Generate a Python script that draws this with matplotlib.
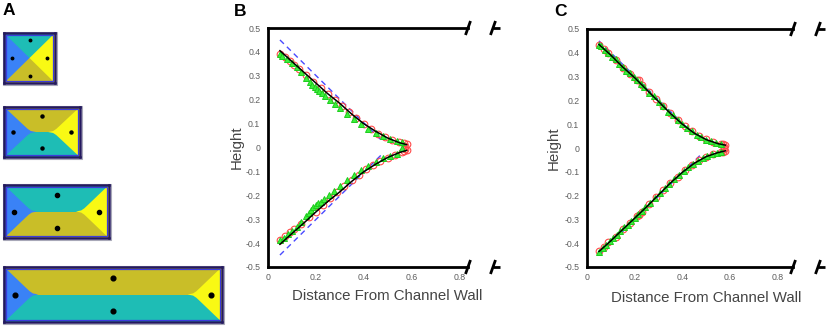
import numpy as np
import matplotlib.pyplot as plt
from matplotlib.patches import Rectangle

plt.rcParams['font.family'] = ['Liberation Sans', 'DejaVu Sans']

# ---------- data ----------
# panel A: four channels of growing aspect ratio
rect_widths = [1.0, 1.5, 2.0, 4.0]
rect_top_colors = ['#1ebdb5', '#c9be28', '#1ebdb5', '#c9be28']
rect_bot_colors = ['#c9be28', '#1ebdb5', '#c9be28', '#1ebdb5']
side_left_color = '#3a82f6'
side_right_color = '#f9f914'

# wall-region boundary (distance from side wall, half height of region)
square_bnd_x = [0.0, 0.5]
square_bnd_y = [0.5, 0.0]
chan_bnd_x = [0.0, 0.1, 0.2, 0.3, 0.4, 0.47, 0.53, 0.63]
chan_bnd_y = [0.5, 0.41, 0.315, 0.22, 0.125, 0.06, 0.02, 0.0]

# centroid dots: distance from side wall, height of top/bottom dots
dot_side = [0.16, 0.18, 0.19, 0.20]
dot_top = [0.36, 0.32, 0.31, 0.30]
dot_ms = [1.8, 2.2, 3.0, 3.4]

# panels B and C
x_ticks = [0, 0.2, 0.4, 0.6, 0.8]
x_tick_labels = ['0', '0.2', '0.4', '0.6', '0.8']
y_ticks = [-0.5, -0.4, -0.3, -0.2, -0.1, 0, 0.1, 0.2, 0.3, 0.4, 0.5]
y_tick_labels = ['-0.5', '-0.4', '-0.3', '-0.2', '-0.1', '0', '0.1', '0.2', '0.3', '0.4', '0.5']

dash_x = [0.05, 0.475]
dash_top_y = [0.45, 0.03]
dash_bot_y = [-0.45, -0.03]

curve_x = [0.05, 0.10, 0.15, 0.20, 0.25, 0.30, 0.35, 0.40, 0.45, 0.50, 0.55, 0.58]
b_curve_top = [0.405, 0.36, 0.315, 0.27, 0.225, 0.185, 0.14, 0.10, 0.068, 0.04, 0.02, 0.012]
b_curve_bot = [-0.405, -0.36, -0.316, -0.27, -0.226, -0.186, -0.142, -0.102, -0.07, -0.042, -0.021, -0.012]
c_curve_top = [0.435, 0.39, 0.34, 0.295, 0.245, 0.195, 0.145, 0.10, 0.062, 0.035, 0.018, 0.012]
c_curve_bot = [-0.435, -0.39, -0.342, -0.295, -0.247, -0.197, -0.147, -0.102, -0.064, -0.036, -0.019, -0.012]

b_red_top_x = [0.05, 0.07, 0.09, 0.11, 0.13, 0.16, 0.19, 0.22, 0.25, 0.28, 0.31, 0.34, 0.37, 0.40, 0.43, 0.46, 0.49, 0.52, 0.55, 0.57, 0.575, 0.58]
b_red_top_y = [0.39, 0.378, 0.362, 0.345, 0.33, 0.302, 0.275, 0.25, 0.222, 0.197, 0.172, 0.148, 0.122, 0.10, 0.078, 0.058, 0.043, 0.032, 0.022, 0.017, 0.008, 0.013]
b_red_bot_x = [0.05, 0.07, 0.09, 0.11, 0.14, 0.17, 0.20, 0.23, 0.26, 0.29, 0.32, 0.35, 0.38, 0.41, 0.44, 0.47, 0.50, 0.53, 0.56, 0.57, 0.575, 0.58]
b_red_bot_y = [-0.388, -0.372, -0.355, -0.34, -0.318, -0.292, -0.268, -0.24, -0.213, -0.188, -0.163, -0.138, -0.115, -0.092, -0.072, -0.055, -0.042, -0.03, -0.02, -0.016, -0.006, -0.012]

b_grn_top_x = [0.05, 0.06, 0.08, 0.10, 0.12, 0.14, 0.16, 0.175, 0.185, 0.195, 0.205, 0.215, 0.225, 0.24, 0.26, 0.28, 0.30, 0.33, 0.36, 0.39, 0.42, 0.45, 0.48, 0.51, 0.54, 0.56]
b_grn_top_y = [0.39, 0.383, 0.37, 0.352, 0.336, 0.315, 0.29, 0.272, 0.262, 0.252, 0.243, 0.236, 0.228, 0.215, 0.198, 0.181, 0.165, 0.14, 0.118, 0.097, 0.077, 0.06, 0.047, 0.036, 0.027, 0.022]
b_grn_bot_x = [0.05, 0.065, 0.085, 0.10, 0.12, 0.14, 0.16, 0.17, 0.18, 0.19, 0.20, 0.21, 0.22, 0.235, 0.255, 0.275, 0.30, 0.33, 0.36, 0.39, 0.42, 0.45, 0.48, 0.51, 0.54, 0.56]
b_grn_bot_y = [-0.388, -0.378, -0.362, -0.35, -0.333, -0.31, -0.288, -0.275, -0.262, -0.25, -0.242, -0.234, -0.226, -0.214, -0.198, -0.18, -0.162, -0.138, -0.116, -0.096, -0.076, -0.059, -0.046, -0.035, -0.026, -0.004]

c_red_top_x = [0.05, 0.07, 0.09, 0.12, 0.15, 0.18, 0.21, 0.22, 0.23, 0.26, 0.29, 0.32, 0.35, 0.38, 0.41, 0.44, 0.47, 0.50, 0.53, 0.56, 0.57, 0.575, 0.58]
c_red_top_y = [0.432, 0.415, 0.398, 0.37, 0.338, 0.312, 0.284, 0.284, 0.266, 0.236, 0.204, 0.175, 0.146, 0.118, 0.092, 0.07, 0.05, 0.036, 0.025, 0.017, 0.015, 0.005, 0.011]
c_red_bot_x = [0.05, 0.07, 0.09, 0.12, 0.15, 0.18, 0.21, 0.22, 0.23, 0.26, 0.29, 0.32, 0.35, 0.38, 0.41, 0.44, 0.47, 0.50, 0.53, 0.56, 0.57, 0.575, 0.58]
c_red_bot_y = [-0.432, -0.414, -0.397, -0.372, -0.34, -0.314, -0.285, -0.283, -0.268, -0.237, -0.206, -0.176, -0.147, -0.12, -0.094, -0.071, -0.051, -0.037, -0.026, -0.018, -0.016, -0.006, -0.011]

c_grn_top_x = [0.05, 0.06, 0.075, 0.09, 0.105, 0.12, 0.135, 0.15, 0.165, 0.18, 0.195, 0.21, 0.225, 0.24, 0.26, 0.28, 0.30, 0.32, 0.34, 0.36, 0.38, 0.40, 0.42, 0.44, 0.46, 0.48, 0.50, 0.52, 0.54, 0.56]
c_grn_top_y = [0.432, 0.428, 0.41, 0.40, 0.383, 0.372, 0.352, 0.342, 0.323, 0.315, 0.298, 0.287, 0.268, 0.257, 0.233, 0.217, 0.193, 0.177, 0.153, 0.138, 0.116, 0.102, 0.082, 0.071, 0.056, 0.047, 0.034, 0.029, 0.02, 0.017]
c_grn_bot_x = [0.05, 0.065, 0.08, 0.095, 0.11, 0.125, 0.14, 0.155, 0.17, 0.185, 0.20, 0.215, 0.23, 0.245, 0.265, 0.285, 0.305, 0.325, 0.345, 0.365, 0.385, 0.405, 0.425, 0.445, 0.465, 0.485, 0.505, 0.525, 0.545, 0.56]
c_grn_bot_y = [-0.436, -0.42, -0.408, -0.392, -0.38, -0.364, -0.35, -0.334, -0.322, -0.305, -0.296, -0.278, -0.266, -0.248, -0.23, -0.209, -0.19, -0.169, -0.151, -0.131, -0.114, -0.097, -0.08, -0.067, -0.054, -0.044, -0.034, -0.026, -0.02, -0.016]

# ---------- figure ----------
W_PX, H_PX = 830, 329
fig = plt.figure(figsize=(W_PX / 100, H_PX / 100), dpi=100)

# panel A
a_boxes = [(4, 33, 51, 50), (4, 107, 76, 50), (4, 185, 105, 53), (4, 267, 218, 55)]
for i, (px, py, pw, ph) in enumerate(a_boxes):
    ax = fig.add_axes([px / W_PX, 1 - (py + ph) / H_PX, pw / W_PX, ph / H_PX])
    W = rect_widths[i]
    ax.add_patch(Rectangle((0, 0), W, 0.5, color=rect_top_colors[i], lw=0))
    ax.add_patch(Rectangle((0, -0.5), W, 0.5, color=rect_bot_colors[i], lw=0))
    if i == 0:
        bx, by = np.array(square_bnd_x), np.array(square_bnd_y)
    else:
        bx, by = np.array(chan_bnd_x), np.array(chan_bnd_y)
    xs = np.concatenate([bx, bx[::-1]])
    ys = np.concatenate([by, -by[::-1]])
    ax.fill(xs, ys, color=side_left_color, lw=0)
    ax.fill(W - xs, ys, color=side_right_color, lw=0)
    ax.plot([dot_side[i], W - dot_side[i], W / 2, W / 2],
            [0, 0, dot_top[i], -dot_top[i]], 'o', color='black', ms=dot_ms[i])
    ax.set_xlim(0, W)
    ax.set_ylim(-0.5, 0.5)
    ax.set_xticks([])
    ax.set_yticks([])
    for s in ax.spines.values():
        s.set_color('#24195e')
        s.set_linewidth(1.8)
    ix, iy = 1.6 / pw, 1.6 / ph
    ax.add_patch(Rectangle((ix, iy), 1 - 2 * ix, 1 - 2 * iy, transform=ax.transAxes,
                           fill=False, ec='#3c3cdc', lw=0.9, zorder=3))
    # soft grey halo round the frame
    gx, gy = 1.5 / pw, 1.5 / ph
    ax.add_patch(Rectangle((-gx, -gy), 1 + 2 * gx, 1 + 2 * gy, transform=ax.transAxes,
                           fill=False, ec='#a8a8b8', lw=0.8, clip_on=False, zorder=1))


def profile_axes(rect_px, xmax, xlab_x, ylab_x, xlab_y):
    px, py, pw, ph = rect_px
    ax = fig.add_axes([px / W_PX, 1 - (py + ph) / H_PX, pw / W_PX, ph / H_PX])
    ax.set_xlim(0, xmax)
    ax.set_ylim(-0.5, 0.5)
    ax.spines['right'].set_visible(False)
    for s in ['left', 'top', 'bottom']:
        ax.spines[s].set_linewidth(2)
        ax.spines[s].set_color('black')
    ax.set_xticks(x_ticks)
    ax.set_xticklabels(x_tick_labels)
    ax.set_yticks(y_ticks)
    ax.set_yticklabels(y_tick_labels)
    ax.tick_params(length=0, labelsize=6.3, labelcolor='#5e5e5e')
    ax.tick_params(axis='y', pad=5.5)
    ax.tick_params(axis='x', pad=4)
    ax.set_xlabel('Distance From Channel Wall', fontsize=10.8, color='#454545')
    ax.xaxis.set_label_coords(xlab_x, xlab_y)
    ax.set_ylabel('Height', fontsize=10.8, color='#454545')
    ax.yaxis.set_label_coords(ylab_x, 0.5)
    # axis break marks
    sx, sy = 2.5 / pw, 7.0 / ph
    x2 = 1 + 25.0 / pw
    for yb in [0, 1]:
        ax.plot([1 - sx, 1 + sx], [yb - sy, yb + sy], color='black', lw=2,
                transform=ax.transAxes, clip_on=False, solid_capstyle='butt')
        ax.plot([x2 - sx, x2 + sx], [yb - sy, yb + sy], color='black', lw=2,
                transform=ax.transAxes, clip_on=False, solid_capstyle='butt')
        ax.plot([x2, x2 + 7.0 / pw], [yb, yb], color='black', lw=2,
                transform=ax.transAxes, clip_on=False, solid_capstyle='butt')
    return ax


def draw_profile(ax, c_top, c_bot, r_tx, r_ty, r_bx, r_by, g_tx, g_ty, g_bx, g_by):
    for dy in [dash_top_y, dash_bot_y]:
        ax.plot(dash_x, dy, color='#4a4aff', lw=1, dashes=(4, 3), zorder=1)
    for rx, ry in [(r_tx, r_ty), (r_bx, r_by)]:
        ax.plot(rx, ry, 'o', ms=4.8, mfc='none', mec='#ff4a4a', mew=0.8, ls='none', zorder=2)
    for gx, gy in [(g_tx, g_ty), (g_bx, g_by)]:
        ax.plot(gx, gy, '^', ms=4.2, mfc='#3cf03c', mec='#1ccc1c', mew=0.7, ls='none', zorder=3)
    for cy in [c_top, c_bot]:
        ax.plot(curve_x, cy, color='black', lw=1.1, zorder=4)


ax_b = profile_axes((268, 28, 200, 239), 200 / 239.0, 0.598, -0.12, -0.092)
draw_profile(ax_b, b_curve_top, b_curve_bot,
             b_red_top_x, b_red_top_y, b_red_bot_x, b_red_bot_y,
             b_grn_top_x, b_grn_top_y, b_grn_bot_x, b_grn_bot_y)

ax_c = profile_axes((587, 29, 206, 238), 206 / 238.5, 0.58, -0.126, -0.1)
draw_profile(ax_c, c_curve_top, c_curve_bot,
             c_red_top_x, c_red_top_y, c_red_bot_x, c_red_bot_y,
             c_grn_top_x, c_grn_top_y, c_grn_bot_x, c_grn_bot_y)

# panel letters
fig.text(3 / W_PX, 1 - 3 / H_PX, 'A', fontsize=12.5, fontweight='bold', va='top', ha='left')
fig.text(234 / W_PX, 1 - 4 / H_PX, 'B', fontsize=12.5, fontweight='bold', va='top', ha='left')
fig.text(554 / W_PX, 1 - 4 / H_PX, 'C', fontsize=12.5, fontweight='bold', va='top', ha='left')

plt.savefig('out.png', dpi=100)
